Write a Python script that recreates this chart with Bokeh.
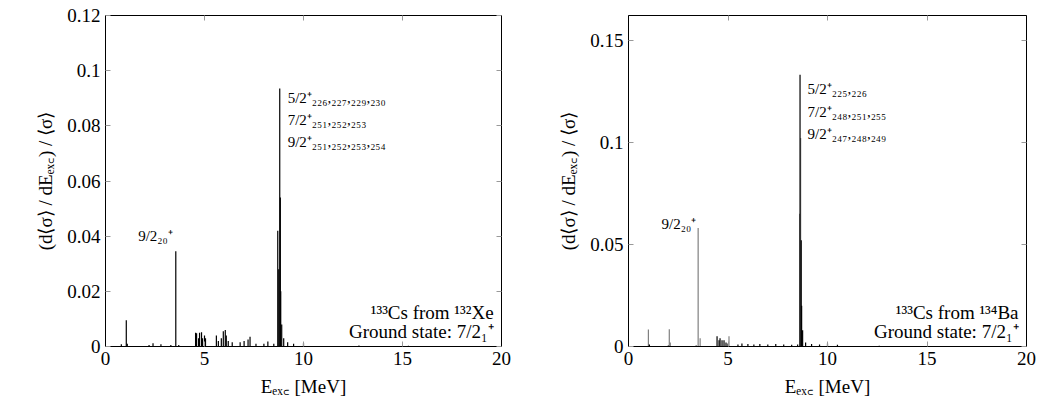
from bokeh.plotting import figure
from bokeh.models import Label, LinearAxis, Range1d, FixedTicker
from bokeh.layouts import row
from bokeh.embed import file_html
from bokeh.resources import INLINE

FONT = "Liberation Serif"

# 133Cs from 132Xe
xe_energy = [0.8, 1.05, 1.1, 2.2, 2.4, 2.8, 3.3, 3.55, 3.7,
             4.55, 4.6, 4.7, 4.75, 4.85, 4.9, 5.0, 5.05,
             5.6, 5.7, 5.85, 5.95, 6.05, 6.1, 6.2, 6.4, 6.8, 7.0, 7.2, 7.3,
             7.6, 8.0, 8.2, 8.5,
             8.7, 8.75, 8.8, 8.83, 8.85, 8.9, 9.0, 9.2, 9.5, 10.0, 12.8, 15.3]
xe_value = [0.0008, 0.0095, 0.001, 0.0005, 0.0012, 0.0008, 0.0005, 0.0345, 0.0005,
            0.005, 0.0048, 0.003, 0.005, 0.0052, 0.003, 0.004, 0.003,
            0.004, 0.002, 0.003, 0.0055, 0.006, 0.004, 0.002, 0.0015, 0.0015, 0.002, 0.0025, 0.0035,
            0.001, 0.001, 0.0018, 0.001,
            0.042, 0.028, 0.0935, 0.054, 0.02, 0.008, 0.003, 0.0015, 0.001, 0.0012, 0.0004, 0.0003]

# 133Cs from 134Ba (grey and black components)
ba_grey_energy = [1.0, 2.05, 2.1, 3.5, 3.6, 5.05, 8.6, 8.65]
ba_grey_value = [0.0083, 0.0085, 0.002, 0.058, 0.004, 0.005, 0.065, 0.102]
ba_black_energy = [1.05, 2.0, 3.4, 4.45, 4.55, 4.6, 4.7, 4.8, 4.9, 5.0, 5.5, 5.7, 6.0, 6.3,
                   6.6, 7.0, 7.4, 7.8, 8.2, 8.5, 8.62, 8.68, 8.7, 8.75, 8.9, 9.2, 9.6, 10.0, 10.5, 12.6]
ba_black_value = [0.001, 0.0005, 0.0005, 0.005, 0.003, 0.004, 0.003, 0.003, 0.002, 0.0015, 0.001, 0.0015,
                  0.0012, 0.001, 0.0012, 0.001, 0.0012, 0.001, 0.0008, 0.001, 0.133, 0.052, 0.02, 0.008,
                  0.002, 0.0012, 0.001, 0.0015, 0.0008, 0.0004]

x_ticks = [0, 5, 10, 15, 20]


def make_plot(width, left, right, ymax, yticks, ylabels):
    p = figure(width=width, height=400, x_range=Range1d(0, 20), y_range=Range1d(0, ymax),
               output_backend="svg", toolbar_location=None,
               min_border_left=left, min_border_right=right, min_border_top=15, min_border_bottom=54)
    p.grid.visible = False
    p.outline_line_color = "black"
    p.background_fill_color = None
    p.border_fill_color = None
    p.xaxis.ticker = FixedTicker(ticks=x_ticks)
    p.yaxis.ticker = FixedTicker(ticks=yticks)
    p.yaxis.major_label_overrides = ylabels
    p.xaxis.axis_label = "Eₑₓ꜀ [MeV]"
    p.yaxis.axis_label = "(d⟨σ⟩ / dEₑₓ꜀) / ⟨σ⟩"
    for ax in [p.xaxis[0], p.yaxis[0]]:
        ax.major_tick_in = 5
        ax.major_tick_out = 0
        ax.minor_tick_line_color = None
        ax.major_tick_line_color = "#999999"
        ax.axis_line_color = "black"
        ax.major_label_text_font = FONT
        ax.major_label_text_font_size = "19px"
        ax.major_label_text_color = "black"
        ax.axis_label_text_font = FONT
        ax.axis_label_text_font_size = "19px"
        ax.axis_label_text_font_style = "normal"
        ax.axis_label_text_color = "black"
        ax.axis_label_standoff = 8
    for side, ticks in [("above", x_ticks), ("right", yticks)]:
        ax = LinearAxis(ticker=FixedTicker(ticks=ticks), major_label_text_color=None,
                        major_tick_in=5, major_tick_out=0, minor_tick_line_color=None,
                        major_label_standoff=0, major_label_text_font_size="1px",
                        major_tick_line_color="#999999", axis_line_color="black")
        p.add_layout(ax, side)
    return p


def add_text(p, x, y, s, size="15px", align="left"):
    p.add_layout(Label(x=x, y=y, text=s, text_font=FONT, text_font_size=size,
                       text_color="black", text_align=align, text_baseline="middle"))


p1 = make_plot(528, 105, 27, 0.12, [0, 0.02, 0.04, 0.06, 0.08, 0.1, 0.12],
               {0: "0", 0.02: "0.02", 0.04: "0.04", 0.06: "0.06", 0.08: "0.08", 0.1: "0.1", 0.12: "0.12"})
p1.segment(x0=xe_energy, y0=0, x1=xe_energy, y1=xe_value, line_color="black", line_width=1.2)
add_text(p1, 3.4, 0.040, "9/2₂₀⁺", align="right")
add_text(p1, 9.2, 0.090, "5/2⁺₂₂₆,₂₂₇,₂₂₉,₂₃₀")
add_text(p1, 9.2, 0.082, "7/2⁺₂₅₁,₂₅₂,₂₅₃")
add_text(p1, 9.2, 0.074, "9/2⁺₂₅₁,₂₅₂,₂₅₃,₂₅₄")
add_text(p1, 19.6, 0.0125, "¹³³Cs from ¹³²Xe", size="19px", align="right")
add_text(p1, 19.6, 0.0055, "Ground state: 7/2₁⁺", size="19px", align="right")

p2 = make_plot(508, 100, 10, 0.162, [0, 0.05, 0.1, 0.15],
               {0: "0", 0.05: "0.05", 0.1: "0.1", 0.15: "0.15"})
p2.segment(x0=ba_grey_energy, y0=0, x1=ba_grey_energy, y1=ba_grey_value, line_color="#808080", line_width=1.2)
p2.segment(x0=ba_black_energy, y0=0, x1=ba_black_energy, y1=ba_black_value, line_color="black", line_width=1.2)
add_text(p2, 3.4, 0.060, "9/2₂₀⁺", align="right")
add_text(p2, 9.0, 0.126, "5/2⁺₂₂₅,₂₂₆")
add_text(p2, 9.0, 0.115, "7/2⁺₂₄₈,₂₅₁,₂₅₅")
add_text(p2, 9.0, 0.104, "9/2⁺₂₄₇,₂₄₈,₂₄₉")
add_text(p2, 19.6, 0.0168, "¹³³Cs from ¹³⁴Ba", size="19px", align="right")
add_text(p2, 19.6, 0.0074, "Ground state: 7/2₁⁺", size="19px", align="right")

open("out.html", "w").write(file_html(row(p1, p2), INLINE))
